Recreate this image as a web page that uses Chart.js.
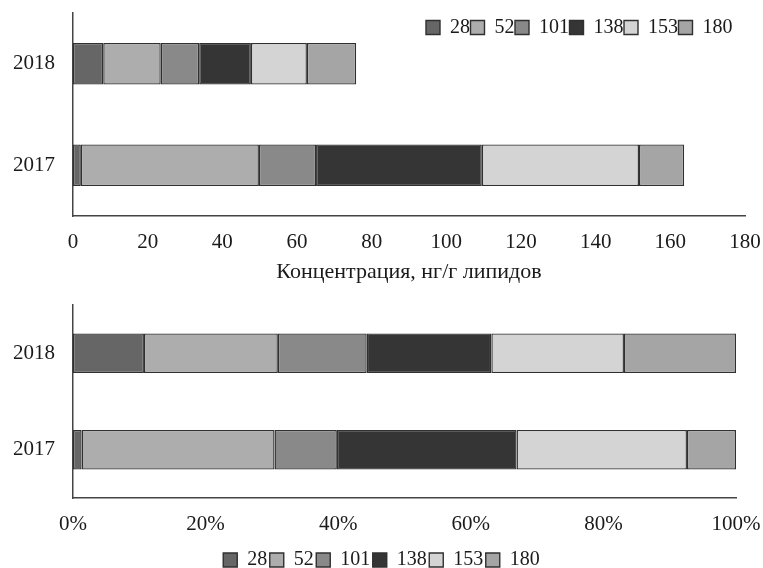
<!DOCTYPE html>
<html><head><meta charset="utf-8">
<script src="https://cdn.jsdelivr.net/npm/chart.js@4"></script>
<style>
html,body{margin:0;padding:0;background:#fff;overflow:hidden;width:763px;height:568px;}
#c1{position:absolute;left:0;top:0;}
#c2{position:absolute;left:0;top:290px;}
#lg{position:absolute;left:381px;top:17px;}
</style></head>
<body>
<canvas id="c1" width="763" height="290"></canvas>
<canvas id="c2" width="763" height="290"></canvas>
<canvas id="lg" width="352" height="40"></canvas>
<script>
// ---- data ----
const categories = ['2018', '2017'];
const congeners = ['28', '52', '101', '138', '153', '180'];
// concentration, ng/g lipids
const c28 = [8.1, 2.1];
const c52 = [15.4, 47.7];
const c101 = [10.3, 15.3];
const c138 = [13.85, 44.4];
const c153 = [15.0, 42.1];
const c180 = [13.2, 12.1];
// share, %
const p28 = [10.7, 1.3];
const p52 = [20.2, 29.1];
const p101 = [13.4, 9.4];
const p138 = [18.8, 27.1];
const p153 = [20.0, 25.7];
const p180 = [16.9, 7.4];
const topTicks = [0, 20, 40, 60, 80, 100, 120, 140, 160, 180];
const bottomTicks = ['0%', '20%', '40%', '60%', '80%', '100%'];
const xTitle = 'Концентрация, нг/г липидов';

// ---- styles ----
const colors = ['#666666', '#adadad', '#898989', '#353535', '#d4d4d4', '#a5a5a5'];
const FAM = '"Liberation Serif", "Times New Roman", serif';
const FONT = {family: FAM, size: 21};
const TITLE_FONT = {family: FAM, size: 22};
const TXT = '#1a1a1a';
const AX = '#444444';

function makeSets(arrs) {
  return arrs.map((d, i) => ({
    label: congeners[i], data: d, backgroundColor: colors[i],
    borderColor: '#303030', borderWidth: 1.4, borderSkipped: false,
    categoryPercentage: 1, barPercentage: 0.41
  }));
}

Chart.defaults.font = FONT;
Chart.defaults.color = TXT;

function yAxis() {
  return {
    stacked: true,
    grid: {display: false, drawTicks: false, tickLength: 0},
    border: {display: true, color: AX, width: 1.5},
    ticks: {padding: 18, font: FONT, color: TXT},
    afterFit: s => { s.width = 73; s.paddingTop = 0; s.paddingBottom = 0; }
  };
}

new Chart(document.getElementById('c1'), {
  type: 'bar',
  data: {labels: categories, datasets: makeSets([c28, c52, c101, c138, c153, c180])},
  options: {
    indexAxis: 'y', responsive: false, animation: false, devicePixelRatio: 1,
    layout: {padding: {left: 0, right: 18, top: 13, bottom: 0}},
    plugins: {legend: {display: false}, tooltip: {enabled: false}},
    scales: {
      x: {
        stacked: true, min: topTicks[0], max: topTicks[topTicks.length - 1],
        grid: {display: false, drawTicks: false, tickLength: 0},
        border: {display: true, color: AX, width: 1.5},
        ticks: {stepSize: topTicks[1] - topTicks[0], padding: 14, font: FONT, color: TXT, maxRotation: 0},
        title: {display: true, text: xTitle, font: TITLE_FONT, color: TXT, padding: {top: 0, bottom: 5}},
        afterFit: s => { s.height = 74; s.paddingLeft = 0; s.paddingRight = 0; }
      },
      y: yAxis()
    }
  }
});

new Chart(document.getElementById('c2'), {
  type: 'bar',
  data: {labels: categories, datasets: makeSets([p28, p52, p101, p138, p153, p180])},
  options: {
    indexAxis: 'y', responsive: false, animation: false, devicePixelRatio: 1,
    layout: {padding: {left: 0, right: 0, top: 15, bottom: 0}},
    plugins: {
      legend: {display: true, position: 'bottom', align: 'center',
        labels: {boxWidth: 14, boxHeight: 14, padding: 2.5, font: {family: FAM, size: 20}, color: TXT}},
      tooltip: {enabled: false}
    },
    scales: {
      x: {
        stacked: true, min: 0, max: 100,
        grid: {display: false, drawTicks: false, tickLength: 0},
        border: {display: true, color: AX, width: 1.5},
        ticks: {stepSize: 20, padding: 14, font: FONT, color: TXT, maxRotation: 0,
          callback: (v, i) => bottomTicks[i]},
        afterFit: s => { s.height = 49.5; s.paddingLeft = 0; s.paddingRight = 27; }
      },
      y: yAxis()
    }
  }
});

// legend for the upper chart (drawn inside its plot area)
new Chart(document.getElementById('lg'), {
  type: 'bar',
  data: {labels: [], datasets: makeSets(congeners.map(() => []))},
  options: {
    responsive: false, animation: false, devicePixelRatio: 1,
    layout: {padding: 0},
    plugins: {
      legend: {display: true, position: 'top', align: 'end',
        labels: {boxWidth: 14, boxHeight: 14, padding: 0.5, font: {family: FAM, size: 20}, color: TXT}},
      tooltip: {enabled: false}
    },
    scales: {x: {display: false}, y: {display: false}}
  }
});
</script>
</body></html>
